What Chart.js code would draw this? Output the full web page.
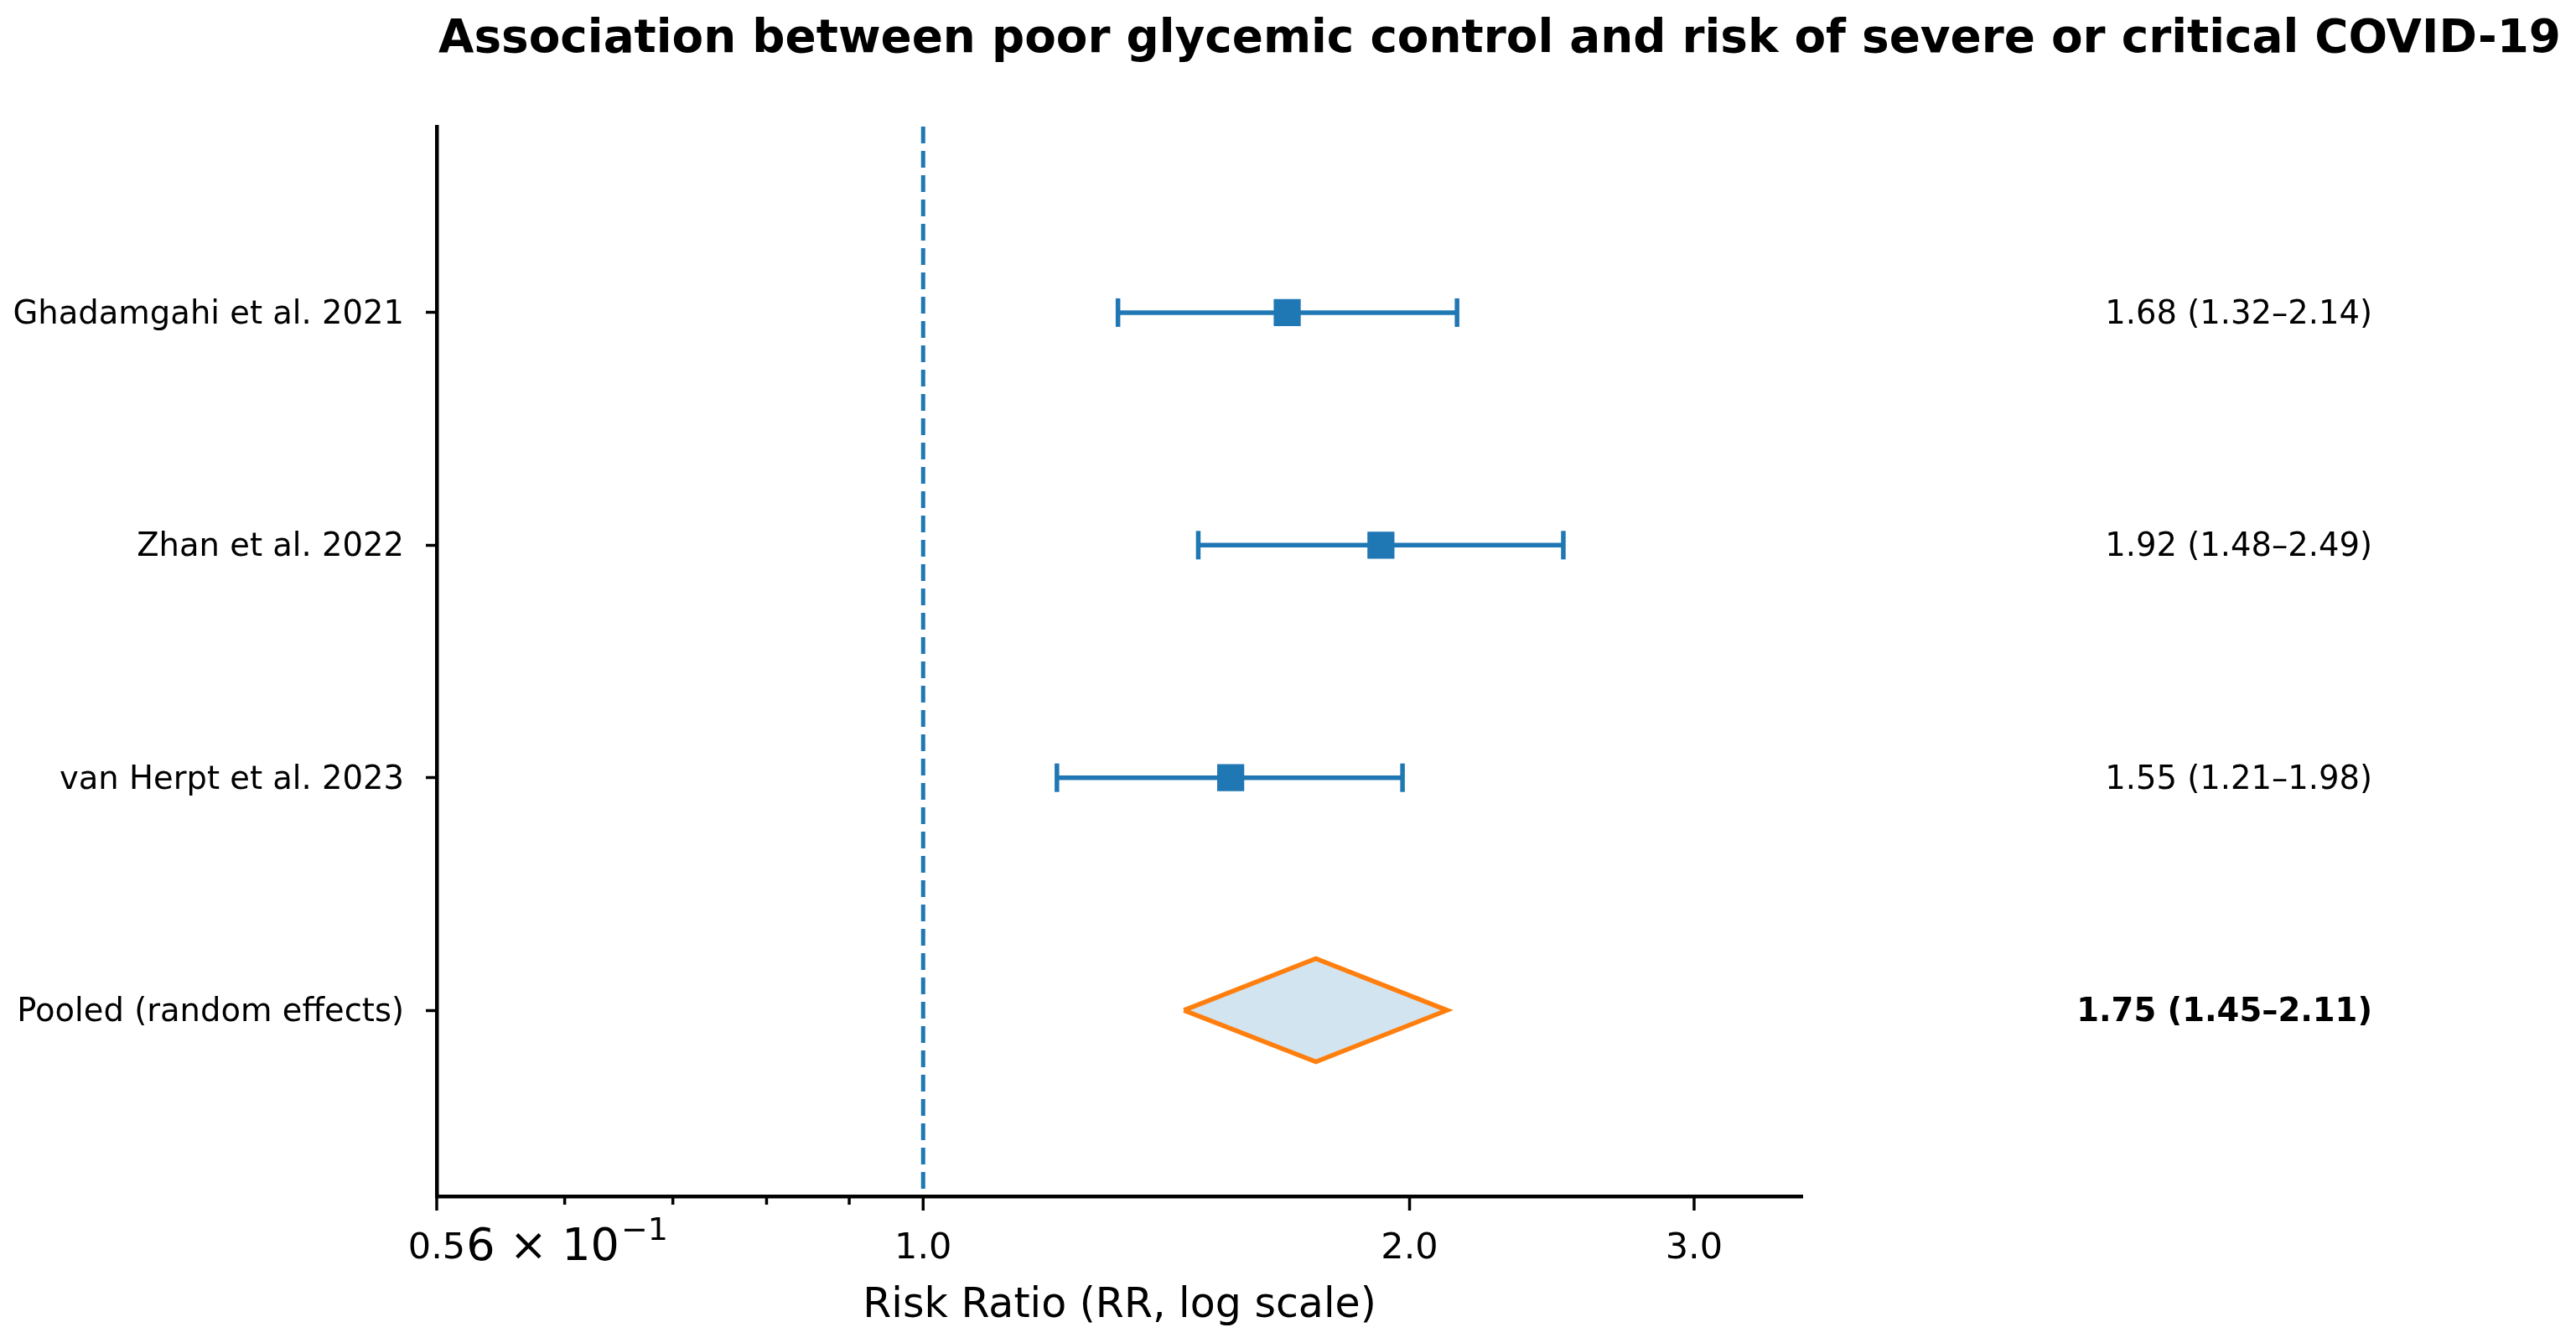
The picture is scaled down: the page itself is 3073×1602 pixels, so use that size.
<!DOCTYPE html>
<html>
<head>
<meta charset="utf-8">
<script src="https://cdn.jsdelivr.net/npm/chart.js@4.4.1/dist/chart.umd.min.js"></script>
<style>
html,body{margin:0;padding:0;background:#ffffff;overflow:hidden}
canvas{display:block}
</style>
</head>
<body>
<canvas id="c" width="3073" height="1602"></canvas>
<script>
// ---- data ----
const studies = ["Ghadamgahi et al. 2021", "Zhan et al. 2022", "van Herpt et al. 2023", "Pooled (random effects)"];
const rr = [1.68, 1.92, 1.55, 1.75];
const lower = [1.32, 1.48, 1.21, 1.45];
const upper = [2.14, 2.49, 1.98, 2.11];
const ciLabels = ["1.68 (1.32–2.14)", "1.92 (1.48–2.49)", "1.55 (1.21–1.98)", "1.75 (1.45–2.11)"];
const pooledIndex = 3;
const xTickValues = [0.5, 0.6, 0.7, 0.8, 0.9, 1, 2, 3];
const xTickLabels = ["0.5", "6 × 10⁻¹", "", "", "", "1.0", "2.0", "3.0"];
const xTickMajor = [true, false, false, false, false, true, true, true];
const sciTickIndex = 1;              // tick drawn as mathtext: base "6 × 10", exponent "−1"
const sciBase = "6 × 10";
const sciExp = "−1";
const xRange = [0.5, 3.5];
const yRange = [-0.8, 3.8];
const nullValue = 1;
const titleText = "Association between poor glycemic control and risk of severe or critical COVID-19";
const xTitleText = "Risk Ratio (RR, log scale)";

// ---- style ----
const BLUE = '#1f77b4';
const ORANGE = '#ff7f0e';
const FONT = '"DejaVu Sans", "Noto Sans", sans-serif';
const diamondHalf = 0.222;

const datasets = [];
// squares
datasets.push({
  data: rr.slice(0, pooledIndex).map((v, i) => ({x: v, y: i})),
  showLine: false, pointStyle: 'rect', pointRadius: 22.8, pointBackgroundColor: BLUE,
  pointBorderWidth: 0, pointBorderColor: BLUE, order: 1
});
// error bars with caps
for (let i = 0; i < pooledIndex; i++) {
  datasets.push({
    data: [{x: lower[i], y: i}, {x: upper[i], y: i}],
    showLine: true, borderColor: BLUE, borderWidth: 5.5,
    pointStyle: 'line', rotation: 90, pointRadius: 17, pointBorderColor: BLUE,
    pointBorderWidth: 5.5, order: 2
  });
}
// pooled diamond
datasets.push({
  data: [
    {x: lower[pooledIndex], y: pooledIndex},
    {x: rr[pooledIndex], y: pooledIndex - diamondHalf},
    {x: upper[pooledIndex], y: pooledIndex},
    {x: rr[pooledIndex], y: pooledIndex + diamondHalf},
    {x: lower[pooledIndex], y: pooledIndex}
  ],
  showLine: true, borderColor: ORANGE, borderWidth: 5.5, borderJoinStyle: 'miter',
  backgroundColor: 'rgba(31,119,180,0.2)', fill: 'shape', pointRadius: 0, order: 3
});
// null line
datasets.push({
  data: [{x: nullValue, y: yRange[0]}, {x: nullValue, y: yRange[1]}],
  showLine: true, borderColor: BLUE, borderWidth: 5, borderDash: [20, 9],
  pointRadius: 0, order: 4
});

const forestPlugin = {
  id: 'forestExtras',
  afterDraw(chart) {
    const ctx = chart.ctx, xs = chart.scales.x, ys = chart.scales.y, ca = chart.chartArea;
    ctx.save();
    // x tick marks (major / minor)
    ctx.strokeStyle = '#000';
    ctx.lineWidth = 3.5;
    xs.ticks.forEach((t) => {
      const k = xTickValues.indexOf(t.value);
      const px = xs.getPixelForValue(t.value);
      const len = xTickMajor[k] ? 17 : 10;
      ctx.beginPath();
      ctx.moveTo(px, ca.bottom);
      ctx.lineTo(px, ca.bottom + len);
      ctx.stroke();
    });
    // mathtext-style minor tick label
    {
      const px = xs.getPixelForValue(xTickValues[sciTickIndex]) + 3;
      const baseFont = '54px ' + FONT, expFont = '38px ' + FONT;
      ctx.font = baseFont; const wb = ctx.measureText(sciBase).width;
      ctx.font = expFont; const we = ctx.measureText(sciExp).width;
      const x0 = px - (wb + we + 2) / 2;
      const baseY = ca.bottom + 76;
      ctx.fillStyle = '#000';
      ctx.textAlign = 'left';
      ctx.textBaseline = 'alphabetic';
      ctx.font = baseFont; ctx.fillText(sciBase, x0, baseY);
      ctx.font = expFont; ctx.fillText(sciExp, x0 + wb + 2, baseY - 24);
    }
    // RR (CI) labels on the right
    ctx.fillStyle = '#000';
    ctx.textAlign = 'right';
    ctx.textBaseline = 'middle';
    ciLabels.forEach((s, i) => {
      ctx.font = (i === pooledIndex ? 'bold ' : '') + '38.5px ' + FONT;
      ctx.fillText(s, ca.right + 680, ys.getPixelForValue(i) + 3);
    });
    // title
    ctx.font = 'bold 54.8px ' + FONT;
    ctx.textAlign = 'center';
    ctx.textBaseline = 'alphabetic';
    ctx.fillText(titleText, 1789, 62);
    ctx.restore();
  }
};

new Chart(document.getElementById('c'), {
  type: 'scatter',
  data: {datasets},
  options: {
    responsive: false,
    devicePixelRatio: 1,
    animation: false,
    layout: {padding: {left: 0, top: 151, right: 923, bottom: 0}},
    plugins: {legend: {display: false}, tooltip: {enabled: false}, title: {display: false}},
    scales: {
      x: {
        type: 'logarithmic',
        min: xRange[0], max: xRange[1],
        afterBuildTicks: (s) => { s.ticks = xTickValues.map(v => ({value: v})); },
        afterFit: (s) => { s.height = 175; },
        grid: {display: true, drawOnChartArea: false, drawTicks: false},
        border: {display: true, color: '#000', width: 4.5},
        ticks: {
          autoSkip: false, maxRotation: 0, padding: 37, color: '#000',
          callback: (v, i) => (i === sciTickIndex ? "" : xTickLabels[i]),
          font: {family: FONT, size: 43, lineHeight: 1.2}
        },
        title: {display: true, text: xTitleText, color: '#000',
          font: {family: FONT, size: 49, lineHeight: 1.2}, padding: {top: 0, bottom: 14}}
      },
      y: {
        type: 'linear',
        reverse: true,
        min: yRange[0], max: yRange[1],
        afterBuildTicks: (s) => { s.ticks = studies.map((_, i) => ({value: i})); },
        afterFit: (s) => { s.width = 521; },
        grid: {display: true, drawOnChartArea: false, drawTicks: true, tickLength: 13, tickWidth: 3.5, tickColor: '#000'},
        border: {display: true, color: '#000', width: 4.5},
        ticks: {
          autoSkip: false, padding: 26, color: '#000', labelOffset: 3,
          callback: (v) => studies[v],
          font: {family: FONT, size: 38.5}
        }
      }
    }
  },
  plugins: [forestPlugin]
});
</script>
</body>
</html>
